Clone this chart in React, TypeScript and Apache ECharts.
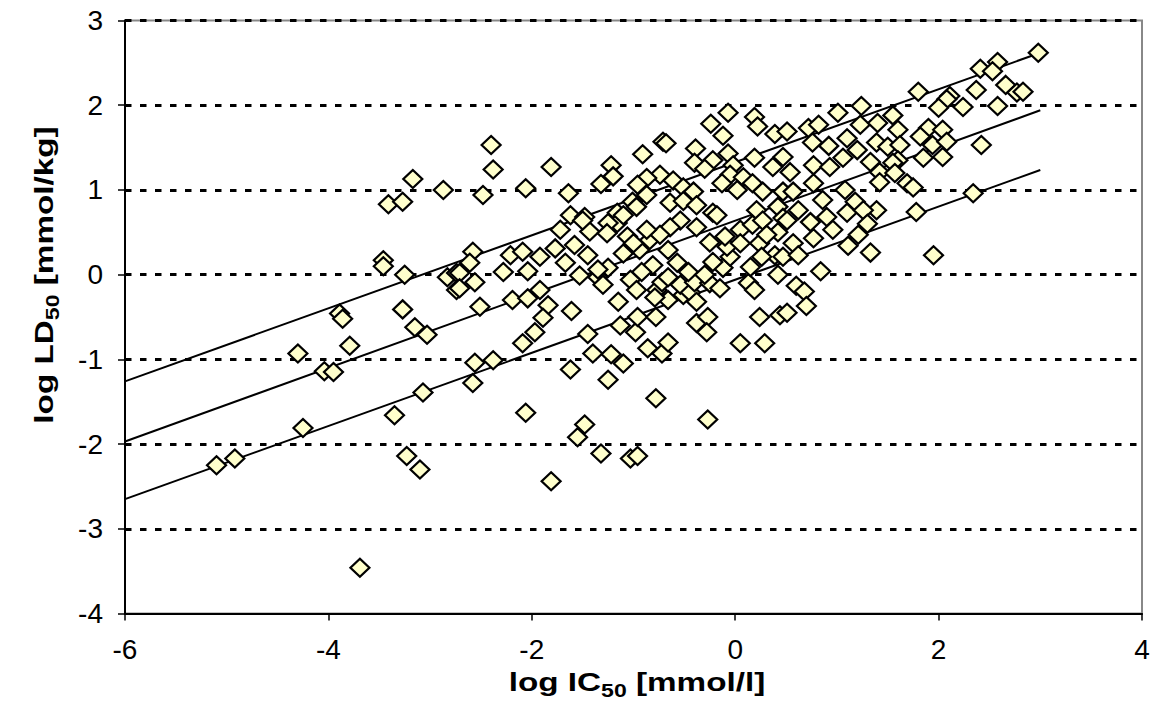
import React, { useEffect, useRef } from "react";
import * as echarts from "echarts";

const xTicks = [-6, -4, -2, 0, 2, 4];
const yTicks = [-4, -3, -2, -1, 0, 1, 2, 3];

const xTitle = { main: "log IC", sub: "50", tail: " [mmol/l]" };
const yTitle = { main: "log LD", sub: "50", tail: " [mmol/kg]" };

// [log IC50, log LD50]
const pointsLow: [number, number][] = [
  [-3.46, 0.17], [-3.46, 0.1], [-3.25, 0.0], [-3.89, -0.46], [-3.86, -0.52], [-3.27, -0.41], [-3.15, -0.62],
  [-3.03, -0.71], [-4.3, -0.93], [-3.79, -0.84], [-4.04, -1.14], [-3.95, -1.15], [-3.07, -1.39], [-3.35, -1.66],
  [-2.83, -0.03], [-2.74, 0.02], [-2.74, -0.18], [-5.1, -2.25], [-4.92, -2.17], [-4.25, -1.81], [-3.23, -2.14],
  [-3.1, -2.3], [-3.69, -3.46], [-3.17, 1.13], [-3.41, 0.83], [-3.27, 0.86], [-2.87, 1.0], [-2.58, 0.27],
  [-2.61, 0.14], [-2.71, 0.02], [-2.56, -0.09], [-2.71, -0.16], [-2.51, -0.38], [-2.58, -1.28], [-2.56, -1.04],
  [-2.48, 0.94],
];

const pointsMidLow: [number, number][] = [
  [-2.4, 1.53], [-2.38, 1.24], [-2.06, 1.02], [-1.81, 1.27], [-1.64, 0.96], [-0.91, 1.42], [-0.71, 1.57],
  [-0.68, 1.55], [-1.22, 1.29], [-1.2, 1.16], [-1.32, 1.07], [-0.74, 1.18], [-0.61, 1.11], [-0.51, 1.03],
  [-0.87, 1.14], [-0.96, 1.06], [-0.87, 0.94], [-1.01, 0.86], [-0.97, 0.8], [-0.64, 0.85], [-0.51, 0.87],
  [-1.62, 0.7], [-1.48, 0.68], [-1.16, 0.73], [-2.21, 0.23], [-2.09, 0.27], [-1.92, 0.21], [-2.28, 0.03],
  [-2.04, 0.04], [-1.77, 0.31], [-1.67, 0.14], [-1.72, 0.53], [-1.58, 0.35], [-1.45, 0.23], [-1.43, 0.51],
  [-1.5, 0.64], [-1.53, -0.01], [-1.35, -0.03], [-1.25, 0.08], [-1.3, -0.12], [-2.19, -0.3], [-2.04, -0.28],
  [-1.92, -0.18], [-1.84, -0.36], [-1.89, -0.51], [-1.97, -0.68], [-2.09, -0.81], [-1.61, -0.43], [-1.15, -0.32],
  [-1.45, -0.7], [-1.4, -0.93], [-1.22, -0.94], [-1.1, -1.05], [-1.13, -0.6], [-0.98, -0.68], [-0.96, -0.5],
  [-0.78, -0.5], [-0.86, -0.87], [-0.72, -0.93], [-0.66, -0.8], [-0.66, -0.3], [-0.77, -0.18], [-0.72, -0.09],
  [-0.51, -0.24], [-0.66, -0.03], [-0.54, -0.12], [-0.54, 0.64], [-0.64, 0.56], [-0.66, 0.29], [-0.57, 0.14],
  [-0.81, 0.11], [-0.84, 0.41], [-0.74, 0.47], [-0.94, 0.29], [-0.92, 0.03], [-1.03, -0.06], [-1.1, 0.25],
  [-1.06, 0.45], [-1.16, 0.61], [-1.25, 0.61], [-1.26, 0.49], [-1.1, 0.7], [-1.0, 0.37], [-0.87, 0.53],
  [-1.35, 0.06], [-0.97, -0.18], [-0.79, -0.27], [-0.78, -1.46], [-1.62, -1.12], [-1.25, -1.24], [-2.38, -1.01],
  [-2.06, -1.63], [-1.48, -1.77], [-1.55, -1.92], [-1.32, -2.11], [-1.03, -2.17], [-0.96, -2.14], [-1.81, -2.44],
];

const pointsMidHigh: [number, number][] = [
  [-0.24, 1.78], [-0.07, 1.91], [0.19, 1.86], [0.22, 1.75], [0.39, 1.66], [0.51, 1.69], [-0.12, 1.64],
  [-0.39, 1.49], [-0.22, 1.35], [-0.07, 1.43], [-0.02, 1.29], [-0.4, 1.32], [-0.3, 1.25], [0.19, 1.38],
  [0.37, 1.27], [0.47, 1.39], [-0.05, 1.18], [0.08, 1.15], [-0.13, 1.08], [0.02, 1.0], [0.17, 1.08],
  [0.27, 0.98], [0.47, 0.98], [-0.41, 0.98], [-0.38, 0.82], [-0.22, 0.73], [0.21, 0.76], [0.42, 0.8],
  [0.54, 1.21], [0.57, 0.98], [-0.44, -0.21], [-0.38, -0.32], [-0.4, -0.09], [-0.25, -0.1], [-0.15, -0.16],
  [0.13, -0.1], [0.19, -0.18], [0.42, 0.0], [0.15, 0.09], [-0.12, 0.08], [-0.22, 0.15], [-0.05, 0.21],
  [-0.25, 0.38], [-0.08, 0.33], [-0.1, 0.45], [0.05, 0.53], [0.17, 0.59], [0.27, 0.64], [0.42, 0.5],
  [0.39, 0.23], [0.24, 0.37], [0.47, 0.67], [-0.38, 0.56], [-0.18, 0.7], [-0.46, 0.03], [-0.3, 0.0],
  [0.26, 0.21], [0.31, 0.47], [0.05, 0.37], [0.47, 0.21], [-0.38, -0.57], [-0.27, -0.5], [-0.28, -0.68],
  [0.05, -0.81], [0.29, -0.81], [0.24, -0.5], [0.44, -0.48], [0.51, -0.45], [-0.27, -1.71], [0.57, 0.37],
  [0.51, 0.64],
];

const pointsHigh: [number, number][] = [
  [2.98, 2.62], [2.58, 2.51], [2.41, 2.43], [2.53, 2.4], [2.66, 2.24], [2.77, 2.15], [2.83, 2.16], [2.37, 2.18],
  [1.8, 2.16], [2.11, 2.11], [2.08, 2.07], [2.0, 1.97], [2.24, 1.98], [2.58, 1.99], [2.42, 1.53], [1.01, 1.91],
  [1.24, 1.99], [1.55, 1.88], [0.72, 1.73], [0.82, 1.77], [1.23, 1.77], [1.4, 1.79], [1.6, 1.71], [1.9, 1.73],
  [2.04, 1.71], [1.82, 1.63], [1.94, 1.53], [2.08, 1.57], [1.1, 1.61], [0.92, 1.52], [0.76, 1.56], [1.39, 1.56],
  [1.5, 1.51], [1.62, 1.53], [1.6, 1.35], [1.85, 1.38], [2.04, 1.39], [0.77, 1.29], [0.93, 1.27], [1.06, 1.38],
  [1.2, 1.47], [1.33, 1.33], [1.42, 1.21], [1.55, 1.32], [1.57, 1.2], [1.42, 1.09], [1.69, 1.08], [1.75, 1.03],
  [0.77, 1.08], [1.08, 1.0], [1.18, 0.86], [0.86, 0.88], [0.62, 0.76], [1.39, 0.76], [1.78, 0.74], [2.34, 0.96],
  [1.1, 0.73], [1.26, 0.76], [1.95, 0.23], [1.33, 0.26], [1.11, 0.34], [1.21, 0.47], [1.3, 0.6], [0.96, 0.53],
  [0.9, 0.68], [0.77, 0.43], [0.74, 0.62], [0.62, 0.23], [0.84, 0.04], [0.6, -0.13], [0.68, -0.2], [0.7, -0.37],
];

// regression line and its bounds: [log IC50, log LD50] end points
const upperLine: [number, number][] = [[-6, -1.26], [3, 2.62]];
const fitLine: [number, number][] = [[-6, -1.97], [3, 1.94]];
const lowerLine: [number, number][] = [[-6, -2.65], [3, 1.235]];

export default function App() {
  const ref = useRef<HTMLDivElement>(null);

  useEffect(() => {
    if (!ref.current) return;
    const chart = echarts.init(ref.current, null, { renderer: "svg" });
    const font = "'Liberation Sans', Arial, sans-serif";
    const points = [...pointsLow, ...pointsMidLow, ...pointsMidHigh, ...pointsHigh];

    const rich = {
      a: { fontSize: 26, fontWeight: "bold", fontFamily: font, lineHeight: 34, fill: "#000" },
      b: { fontSize: 18, fontWeight: "bold", fontFamily: font, lineHeight: 14, verticalAlign: "bottom", fill: "#000" },
    };
    const titleText = (t: { main: string; sub: string; tail: string }) =>
      `{a|${t.main}}{b|${t.sub}}{a|${t.tail}}`;

    const lineSeries = (data: [number, number][]) => ({
      type: "line",
      data,
      showSymbol: false,
      symbol: "none",
      lineStyle: { color: "#000", width: 2 },
      z: 2,
      silent: true,
    });

    chart.setOption({
      animation: false,
      backgroundColor: "#ffffff",
      grid: {
        left: 125,
        top: 20.5,
        width: 1017,
        height: 593,
        show: true,
        borderColor: "#888888",
        borderWidth: 2,
        backgroundColor: "transparent",
      },
      xAxis: {
        type: "value",
        min: xTicks[0],
        max: xTicks[xTicks.length - 1],
        interval: xTicks[1] - xTicks[0],
        axisLine: { show: true, onZero: false, lineStyle: { color: "#000", width: 2 } },
        axisTick: { show: true, inside: false, length: 7, lineStyle: { color: "#000", width: 1.5 } },
        axisLabel: { margin: 22, fontSize: 28, fontFamily: font, color: "#000" },
        splitLine: { show: false },
      },
      yAxis: {
        type: "value",
        min: yTicks[0],
        max: yTicks[yTicks.length - 1],
        interval: yTicks[1] - yTicks[0],
        axisLine: { show: true, onZero: false, lineStyle: { color: "#000", width: 2 } },
        axisTick: { show: true, inside: false, length: 7, lineStyle: { color: "#000", width: 1.5 } },
        axisLabel: { margin: 22, fontSize: 28, fontFamily: font, color: "#000" },
        splitLine: {
          show: true,
          showMinLine: false,
          lineStyle: { color: "#000", width: 3, type: [6.5, 8.5] },
        },
      },
      series: [
        lineSeries(upperLine),
        lineSeries(fitLine),
        lineSeries(lowerLine),
        {
          type: "scatter",
          data: points,
          symbol: "diamond",
          symbolSize: [19, 18],
          itemStyle: { color: "#FFFFCC", borderColor: "#000", borderWidth: 2.2, opacity: 1 },
          z: 3,
        },
      ],
      graphic: [
        {
          type: "text",
          x: 637,
          y: 682,
          scaleX: 1.28,
          style: { text: titleText(xTitle), rich, align: "center", verticalAlign: "middle", fill: "#000" },
        },
        {
          type: "text",
          x: 44,
          y: 275,
          rotation: Math.PI / 2,
          scaleX: 1.28,
          style: { text: titleText(yTitle), rich, align: "center", verticalAlign: "middle", fill: "#000" },
        },
      ],
    });

    return () => chart.dispose();
  }, []);

  return (
    <div
      ref={ref}
      style={{ position: "fixed", left: 0, top: 0, width: 1162, height: 714, background: "#fff" }}
    />
  );
}
